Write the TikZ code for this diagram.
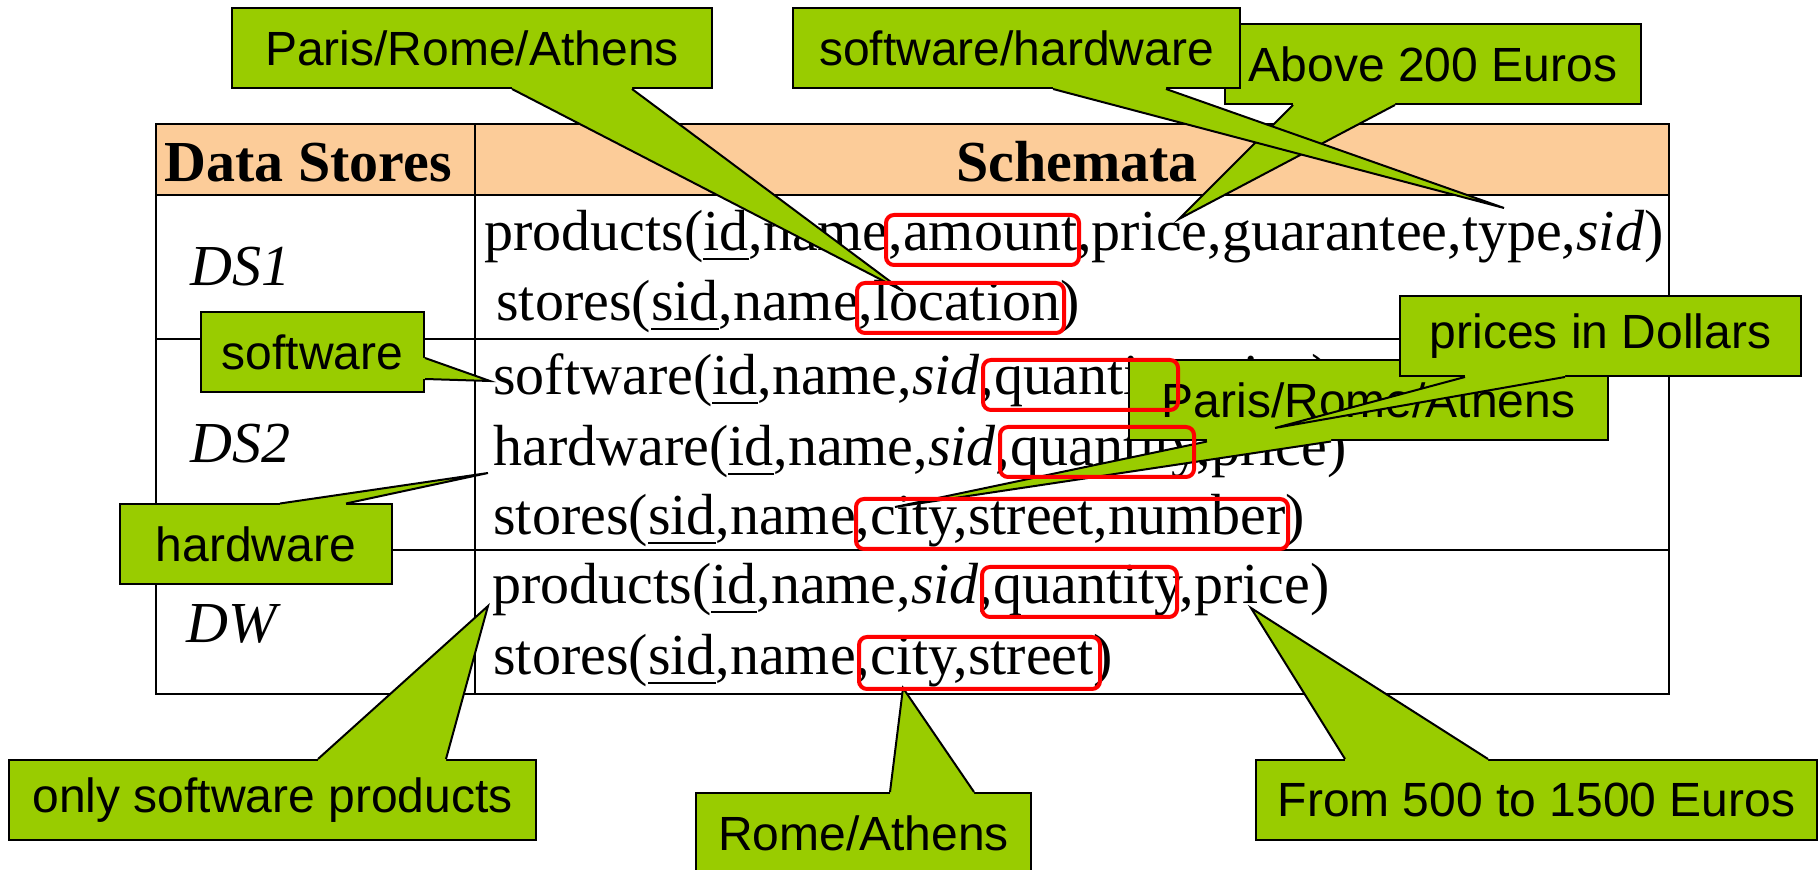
\documentclass[tikz,border=0pt]{standalone}
\usepackage{fontspec}
\setmainfont{Liberation Serif}
\setsansfont{Liberation Sans}
\usepackage{xcolor}
\usepackage{tikz}
\usetikzlibrary{calc}
\definecolor{tagGreen}{RGB}{153,204,0}
\definecolor{headPeach}{RGB}{252,204,153}
\definecolor{markRed}{RGB}{255,0,0}
\newcommand{\keyattr}[1]{\setbox0\hbox{#1}\rlap{\rule[-4.5pt]{\wd0}{1.2pt}}\box0}
% wedge of a callout: node, corner, base start, base end, inward shift, tip
\newcommand{\tagpointer}[6]{%
  \coordinate (#1-tip) at (#6);
  \fill[tagGreen] ([#3,#5]#1.#2) -- ([#3]#1.#2) -- (#1-tip) -- ([#4]#1.#2) -- ([#4,#5]#1.#2) -- cycle;
  \draw[tagedge] ([#3]#1.#2) -- (#1-tip) -- ([#4]#1.#2);}

\begin{document}
\begin{tikzpicture}[x=0.5pt, y=-0.5pt,
  schema/.style={anchor=base west, inner sep=0pt, font=\fontsize{29}{34}\selectfont},
  head/.style={anchor=base, inner sep=0pt, font=\fontsize{29}{34}\selectfont\bfseries},
  tag/.style={draw, line width=1pt, fill=tagGreen, inner sep=0pt, minimum height=40pt, font=\sffamily\fontsize{24}{28}\selectfont},
  tagedge/.style={line width=1pt, line join=miter},
  keybox/.style={draw=markRed, line width=2pt, rounded corners=4pt}]
\useasboundingbox (0,0) rectangle (1820,870);
% table
\fill[headPeach] (156,124) rectangle (1669,195);
\draw[line width=1.2pt] (156,124) rectangle (1669,694);
\draw[line width=1.2pt] (156,195) -- (1669,195) (156,339) -- (1669,339) (156,550) -- (1669,550) (475,124) -- (475,694);
\node[head] (hstores) at (308,182) {Data Stores};
\node[head] (hschema) at (1077,182) {Schemata};
\node[schema] (ds1) at (190,286) {\itshape DS1};
\node[schema] (ds2) at (190,463) {\itshape DS2};
\node[schema] (dw) at (186,643) {\itshape DW};
\node[schema] (ds1prod) at (484,251) {products(\keyattr{id},name,amount,price,guarantee,type,\textit{sid})};
\node[schema] (ds1store) at (496,321) {stores(\keyattr{sid},name,location)};
\node[schema] (ds2soft) at (493,395) {software(\keyattr{id},name,\textit{sid},quantity,price)};
\node[schema] (ds2hard) at (493,466) {hardware(\keyattr{id},name,\textit{sid},quantity,price)};
\node[schema] (ds2store) at (493,535) {stores(\keyattr{sid},name,city,street,number)};
\node[schema] (dwprod) at (492,604) {products(\keyattr{id},name,\textit{sid},quantity,price)};
\node[schema] (dwstore) at (493,675) {stores(\keyattr{sid},name,city,street)};
% callouts
\node[tag, minimum width=240pt] (paristop) at (472,48) {Paris/Rome/Athens};
\tagpointer{paristop}{south west}{xshift=140.5pt}{xshift=200.5pt}{yshift=1.5pt}{903,291}
\node[tag, minimum width=208pt] (above) at (1433,64) {Above 200 Euros};
\tagpointer{above}{south west}{xshift=34.5pt}{xshift=85.5pt}{yshift=1.5pt}{1179,219}
\node[tag, minimum width=223.5pt] (softhard) at (1016.5,48) {software/hardware};
\tagpointer{softhard}{south west}{xshift=130.5pt}{xshift=187pt}{yshift=1.5pt}{1504,208}
\node[tag, minimum width=111.5pt] (software) at (312.5,352) {software};
\tagpointer{software}{north east}{yshift=-23.5pt}{yshift=-34pt}{xshift=-1.5pt}{490,381}
\node[tag, minimum width=136pt] (hardware) at (256,544.5) {hardware};
\tagpointer{hardware}{north west}{xshift=80.5pt}{xshift=113.5pt}{yshift=-1.5pt}{488,473}
\node[tag, minimum width=239.5pt] (parismid) at (1368.5,400.5) {Paris/Rome/Athens};
\tagpointer{parismid}{south west}{xshift=39.5pt}{xshift=101.5pt}{yshift=1.5pt}{895,507}
\node[tag, minimum width=200.5pt] (dollars) at (1600.5,336) {prices in Dollars};
\tagpointer{dollars}{south west}{xshift=33pt}{xshift=83pt}{yshift=1.5pt}{1275,428}
\node[tag, minimum width=263.5pt] (onlysoft) at (272.5,800) {only software products};
\tagpointer{onlysoft}{north west}{xshift=155pt}{xshift=219pt}{yshift=-1.5pt}{488,606}
\node[tag, minimum width=167.5pt] (romeath) at (863.5,833) {Rome/Athens};
\tagpointer{romeath}{north west}{xshift=97.5pt}{xshift=139.5pt}{yshift=-1.5pt}{903,688}
\node[tag, minimum width=280.5pt] (euros) at (1536.5,800) {From 500 to 1500 Euros};
\tagpointer{euros}{north west}{xshift=45pt}{xshift=116.5pt}{yshift=-1.5pt}{1251,608}
% changed attributes
\draw[keybox] (886,215) rectangle (1079,265);
\draw[keybox] (857,283) rectangle (1064,333);
\draw[keybox] (983,360) rectangle (1178,410);
\draw[keybox] (1000,427) rectangle (1194,477);
\draw[keybox] (856,499) rectangle (1288,549);
\draw[keybox] (982,567) rectangle (1177,617);
\draw[keybox] (859,637) rectangle (1100,689);
\end{tikzpicture}
\end{document}
